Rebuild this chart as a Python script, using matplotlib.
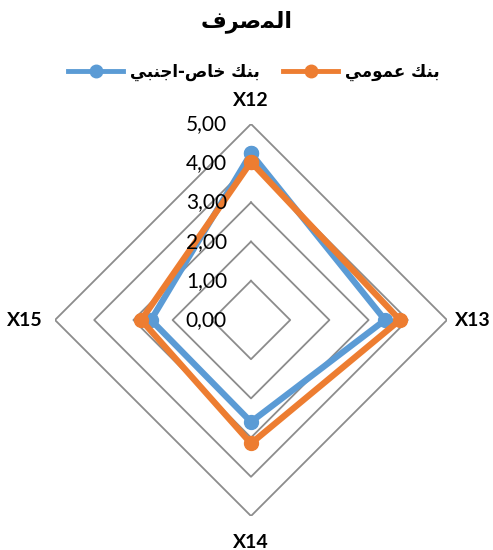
import numpy as np
import matplotlib
matplotlib.use("Agg")
import matplotlib.pyplot as plt
from matplotlib.lines import Line2D

# Radar data: four indicators, two bank groups
categories = ["X12", "X13", "X14", "X15"]
private_foreign = [4.25, 3.42, 2.60, 2.55]   # بنك خاص-اجنبي
public_bank = [4.03, 3.80, 3.15, 2.80]       # بنك عمومي
ring_values = [1, 2, 3, 4, 5]
tick_labels = ["0,00", "1,00", "2,00", "3,00", "4,00", "5,00"]

# Arabic strings in visual (shaped, left-to-right) order
title_txt = "\uFED1\uFEAE\uFEBB\uFEE4\uFEDF\uFE8D"
name_private = "\uFEF2\uFE92\uFEE8\uFE9F\uFE8D-\uFEB9\uFE8E\uFEA7 \uFEDA\uFEE8\uFE91"
name_public = "\uFEF2\uFEE3\uFEEE\uFEE4\uFECB \uFEDA\uFEE8\uFE91"

BLUE = "#5B9BD5"
ORANGE = "#ED7D31"
GRID = "#8C8C8C"
AR_FONT = ["DejaVu Sans"]
LAT_FONT = ["Lato", "DejaVu Sans"]

W, H = 493, 550
fig = plt.figure(figsize=(W / 100, H / 100), dpi=100)
cx, cy, rad = 251, 320, 196
ax = fig.add_axes([(cx - rad) / W, (H - cy - rad) / H, 2 * rad / W, 2 * rad / H],
                  projection="polar")
ax.set_theta_offset(np.pi / 2)
ax.set_theta_direction(-1)
ax.set_ylim(0, 5)
ax.grid(False)
ax.set_xticks([])
ax.set_yticks([])
ax.spines["polar"].set_visible(False)
ax.patch.set_visible(False)

theta = np.linspace(0, 2 * np.pi, len(categories), endpoint=False)
theta_c = np.append(theta, theta[0])

# Diamond gridlines
for r in ring_values:
    ax.plot(theta_c, [r] * len(theta_c), color=GRID, lw=1.3, zorder=1)

def closed(v):
    return np.append(v, v[0])

ax.plot(theta_c, closed(private_foreign), color=BLUE, lw=4.5, marker="o",
        ms=10, solid_joinstyle="round", zorder=3, clip_on=False)
ax.plot(theta_c, closed(public_bank), color=ORANGE, lw=4.5, marker="o",
        ms=10, solid_joinstyle="round", zorder=4, clip_on=False)

# Value labels along the top axis
for i, lab in enumerate(tick_labels):
    ax.annotate(lab, xy=(0, i), xytext=(-24, 0), textcoords="offset pixels",
                ha="right", va="center", fontsize=15, family=LAT_FONT,
                color="black", zorder=5, annotation_clip=False)

# Category labels at the outer vertices
offsets = [(0, 24, "center", "center"), (8, 0, "left", "center"),
           (0, -26, "center", "center"), (-12, 0, "right", "center")]
for t, name, (dx, dy, ha, va) in zip(theta, categories, offsets):
    ax.annotate(name, xy=(t, 5), xytext=(dx, dy), textcoords="offset pixels",
                ha=ha, va=va, fontsize=14, fontweight="bold", family=LAT_FONT,
                annotation_clip=False)

fig.text(0.5, 1 - 22 / H, title_txt, ha="center", va="center", fontsize=16,
         fontweight="bold", family=AR_FONT)

handles = [Line2D([], [], color=BLUE, lw=3.5, marker="o", ms=9),
           Line2D([], [], color=ORANGE, lw=3.5, marker="o", ms=9)]
fig.legend(handles, [name_private, name_public], loc="center",
           bbox_to_anchor=(0.515, 1 - 72 / H), ncol=2, frameon=False,
           prop={"family": AR_FONT, "size": 12, "weight": "bold"},
           handlelength=3.3, columnspacing=1.4, handletextpad=0.4)

fig.savefig("out.png", dpi=100)
